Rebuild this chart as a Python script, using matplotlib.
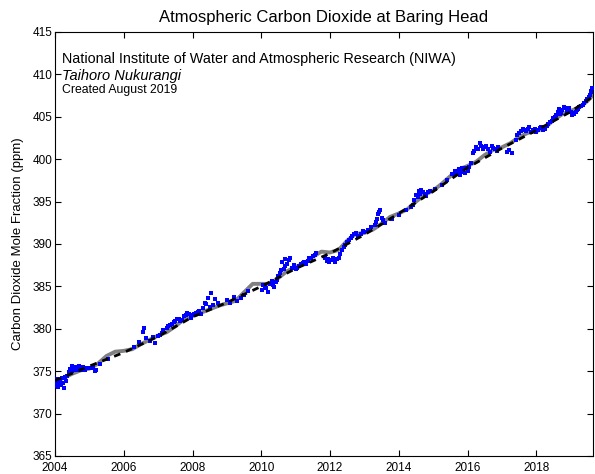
import matplotlib
matplotlib.use("Agg")
import matplotlib.pyplot as plt

# Seasonal fit curve (grey)
fit_year = [2004.00, 2004.25, 2004.50, 2004.75, 2005.00, 2005.25, 2005.50, 2005.75,
            2006.00, 2006.25, 2006.50, 2006.75, 2007.00, 2007.25, 2007.50, 2007.75,
            2008.00, 2008.25, 2008.50, 2008.75, 2009.00, 2009.25, 2009.50, 2009.75,
            2010.00, 2010.25, 2010.50, 2010.75, 2011.00, 2011.25, 2011.50, 2011.75,
            2012.00, 2012.25, 2012.50, 2012.75, 2013.00, 2013.25, 2013.50, 2013.75,
            2014.00, 2014.25, 2014.50, 2014.75, 2015.00, 2015.25, 2015.50, 2015.75,
            2016.00, 2016.25, 2016.50, 2016.75, 2017.00, 2017.25, 2017.50, 2017.75,
            2018.00, 2018.25, 2018.50, 2018.75, 2019.00, 2019.25, 2019.50, 2019.65]
fit_ppm = [373.8, 374.2, 374.7, 375.1, 375.3, 375.9, 376.8, 377.3,
           377.4, 377.6, 378.2, 378.7, 379.2, 379.6, 380.3, 381.1,
           381.5, 381.9, 382.3, 382.7, 383.0, 383.3, 384.3, 385.3,
           385.3, 385.3, 386.0, 386.8, 387.3, 387.7, 388.5, 389.1,
           389.0, 389.3, 390.4, 391.2, 391.3, 391.7, 392.4, 393.2,
           393.6, 394.1, 395.0, 395.8, 396.3, 397.1, 398.0, 398.8,
           399.2, 399.7, 400.5, 401.1, 401.4, 401.9, 402.6, 403.1,
           403.3, 403.7, 404.6, 405.3, 405.7, 406.1, 406.9, 407.6]

# Long-term trend (black dashed)
trend_year = [2004, 2005, 2006, 2007, 2008, 2009, 2010, 2011, 2012, 2013,
              2014, 2015, 2016, 2017, 2018, 2019, 2019.65]
trend_ppm = [373.9, 375.6, 377.2, 379.1, 381.4, 383.1, 385.0, 387.1, 388.9, 391.1,
             393.6, 396.2, 399.0, 401.3, 403.4, 405.6, 407.4]

# Individual observations (blue), first batch
obs_year = [2004.02, 2004.05, 2004.08, 2004.10, 2004.13, 2004.17, 2004.20, 2004.25, 2004.28, 2004.32,
            2004.45, 2004.50, 2004.55, 2004.60, 2004.65, 2004.70, 2004.75, 2004.80, 2004.88,
            2005.05, 2005.15, 2005.30, 2005.55,
            2006.30, 2006.45, 2006.56, 2006.60, 2006.65, 2006.75, 2006.85, 2006.90, 2007.00, 2007.10,
            2007.25, 2007.35, 2007.45, 2007.55, 2007.65, 2007.75, 2007.85, 2007.95, 2008.05, 2008.15, 2008.25,
            2008.35, 2008.45, 2008.55, 2008.60, 2008.65, 2008.75,
            2009.00, 2009.10, 2009.20, 2009.30, 2009.40,
            2010.02, 2010.10, 2010.20, 2010.30, 2010.38, 2010.45,
            2010.55, 2010.60, 2010.65, 2010.70, 2010.75, 2010.80, 2010.85, 2010.90,
            2011.00, 2011.10, 2011.20, 2011.30, 2011.40, 2011.50,
            2011.90, 2011.98, 2012.05, 2012.15, 2012.25,
            2012.40, 2012.50, 2012.60, 2012.70, 2012.85, 2012.95,
            2013.35, 2013.40, 2013.45, 2013.50,
            2013.60, 2013.80, 2014.00, 2014.20, 2014.35,
            2014.50, 2014.58, 2014.65, 2014.75, 2014.85,
            2015.05, 2015.25, 2015.40, 2015.55,
            2015.70, 2015.78, 2015.85, 2015.92, 2016.00, 2016.05,
            2016.15, 2016.25, 2016.35, 2016.45, 2016.55, 2016.65, 2016.75, 2016.85,
            2017.15, 2017.22, 2017.28,
            2017.50, 2017.60, 2017.70, 2017.80, 2017.90, 2018.00, 2018.10, 2018.20, 2018.30,
            2018.45,
            2018.58, 2018.65, 2018.72, 2018.80, 2018.88, 2018.95, 2019.05, 2019.10, 2019.18, 2019.25,
            2019.35, 2019.45, 2019.52, 2019.58, 2019.62]
obs_ppm = [373.3, 373.9, 373.1, 373.6, 374.0, 373.4, 374.2, 373.0, 374.3, 373.9,
           375.3, 375.6, 375.2, 375.5, 375.4, 375.6, 375.3, 375.5, 375.2,
           375.4, 375.0, 375.8, 376.4,
           377.9, 378.4, 379.6, 380.1, 378.9, 378.6, 379.0, 378.3, 379.1, 379.5,
           380.1, 380.5, 380.8, 381.1, 380.9, 381.5, 381.9, 381.3, 381.8, 382.0, 381.7,
           383.0, 383.6, 384.2, 382.8, 383.5, 383.1,
           383.4, 383.0, 383.8, 383.3, 383.6,
           384.6, 385.0, 384.3, 385.6, 384.9, 385.8,
           386.6, 387.9, 387.0, 388.2, 387.6, 388.1, 388.3, 387.2,
           387.0, 387.4, 387.8, 387.6, 388.3, 388.6,
           388.0, 387.9, 388.1, 387.9, 388.4,
           389.6, 390.2, 390.7, 391.2, 391.0, 391.5,
           392.6, 393.5, 394.0, 393.1,
           392.5, 393.0, 393.4, 394.0, 394.4,
           395.8, 396.2, 396.4, 395.9, 396.1,
           396.5, 397.0, 397.6, 398.2,
           398.5, 398.1, 399.0, 398.4, 398.8, 399.1,
           400.7, 401.4, 401.9, 401.2, 401.6, 400.9, 401.3, 401.0,
           400.8, 401.1, 400.7,
           403.1, 403.6, 403.3, 403.8, 403.4, 403.2, 403.7, 403.5, 403.9,
           404.5,
           405.2, 405.9, 405.5, 406.2, 405.7, 406.0, 405.2, 405.3, 405.8, 406.1,
           406.4, 406.9, 407.3, 407.9, 408.4]

# Individual observations (blue), second batch
obs2_year = [2004.03, 2004.07, 2004.12, 2004.15, 2004.22, 2004.35, 2004.40, 2004.48, 2004.58, 2004.68,
             2004.78, 2004.92, 2005.10, 2005.20,
             2007.05, 2007.15, 2007.30, 2007.40, 2007.50, 2007.60, 2007.70, 2007.80, 2007.90, 2008.00,
             2008.10, 2008.20, 2008.30, 2008.40, 2008.50,
             2009.50, 2009.60,
             2010.05, 2010.15, 2010.25, 2010.35, 2010.42, 2010.50, 2010.58, 2010.68, 2010.95, 2011.05,
             2011.15, 2011.25, 2011.35, 2011.45, 2011.55, 2011.60,
             2011.85, 2011.95, 2012.10, 2012.20, 2012.30, 2012.35, 2012.45, 2012.55, 2012.65, 2012.75,
             2012.80, 2012.90,
             2013.00, 2013.10, 2013.20, 2013.30, 2013.38, 2013.42, 2013.55,
             2014.40, 2014.45, 2014.55, 2014.62, 2014.70, 2014.80, 2014.90,
             2015.60, 2015.65, 2015.75, 2015.82, 2015.88, 2015.95, 2016.02, 2016.10, 2016.20, 2016.30,
             2016.40, 2016.50, 2016.60, 2016.70, 2016.80, 2016.90,
             2017.40, 2017.45, 2017.55, 2017.65, 2017.75, 2017.85, 2017.95, 2018.05, 2018.15, 2018.25,
             2018.35, 2018.40, 2018.50, 2018.55,
             2018.62, 2018.68, 2018.75, 2018.85, 2018.92, 2019.00, 2019.08, 2019.15, 2019.22, 2019.30,
             2019.40, 2019.48, 2019.55, 2019.60]
obs2_ppm = [373.7, 374.1, 373.5, 373.8, 373.6, 374.4, 374.9, 375.0, 375.4, 375.1,
            375.2, 375.4, 375.5, 375.2,
            379.3, 379.8, 380.3, 380.6, 380.9, 381.2, 381.0, 381.6, 381.7, 381.6,
            381.9, 382.1, 382.4, 382.9, 382.6,
            384.0, 384.5,
            385.2, 384.8, 385.3, 385.2, 385.5, 386.2, 386.9, 387.4, 387.5, 387.2,
            387.6, 387.9, 388.0, 388.4, 388.7, 388.9,
            388.3, 388.2, 388.3, 388.2, 388.8, 389.3, 389.9, 390.5, 391.0, 391.3,
            390.9, 391.2,
            391.4, 391.6, 392.0, 392.2, 393.0, 393.8, 392.8,
            394.6, 395.2, 395.6, 395.9, 396.1, 395.7, 396.3,
            398.3, 398.6, 398.8, 398.5, 398.7, 399.0, 398.6, 399.6, 401.0, 401.2,
            401.6, 401.4, 401.2, 401.5, 401.2, 401.4,
            402.3, 402.8, 403.3, 403.5, 403.6, 403.2, 403.6, 403.4, 403.8, 403.6,
            404.1, 404.4, 404.8, 405.0,
            405.6, 405.3, 405.8, 406.0, 405.9, 405.6, 405.5, 405.6, 405.9, 406.3,
            406.6, 407.1, 407.6, 408.0]

x_ticks = [2004, 2006, 2008, 2010, 2012, 2014, 2016, 2018]
y_ticks = [365, 370, 375, 380, 385, 390, 395, 400, 405, 410, 415]

plt.rcParams['font.family'] = ['Liberation Sans', 'DejaVu Sans']

fig = plt.figure(figsize=(5.95, 4.74), dpi=100)
ax = fig.add_axes([55 / 595, 18 / 474, 538 / 595, 424 / 474])

ax.plot(fit_year, fit_ppm, color='#808080', lw=2.8, solid_capstyle='round', zorder=2)
for yy, pp in ((obs_year, obs_ppm), (obs2_year, obs2_ppm)):
    ax.plot(yy, pp, linestyle='none', marker='s', ms=2.2, color='#0000ff',
            markeredgewidth=0, zorder=3)
ax.plot(trend_year, trend_ppm, color='black', lw=2.0, dashes=(2.4, 2.2), zorder=4)

ax.set_xlim(2004, 2019.65)
ax.set_ylim(365, 415)
ax.set_xticks(x_ticks)
ax.set_yticks(y_ticks)
ax.tick_params(direction='in', length=4.5, width=0.8, top=True, right=True,
               labelsize=8.5)
ax.tick_params(axis='x', pad=4)
ax.tick_params(axis='y', pad=2)
for s in ax.spines.values():
    s.set_linewidth(0.8)

ax.set_title('Atmospheric Carbon Dioxide at Baring Head', fontsize=12, pad=7)
ax.set_ylabel('Carbon Dioxide Mole Fraction (ppm)', fontsize=9.5, labelpad=6)

ax.text(0.013, 0.937, 'National Institute of Water and Atmospheric Research (NIWA)',
        transform=ax.transAxes, fontsize=10.4, va='center', ha='left')
ax.text(0.013, 0.897, 'Taihoro Nukurangi', style='italic',
        transform=ax.transAxes, fontsize=10.5, va='center', ha='left')
ax.text(0.013, 0.864, 'Created August 2019',
        transform=ax.transAxes, fontsize=8.8, va='center', ha='left')

fig.savefig('out.png', dpi=100)
